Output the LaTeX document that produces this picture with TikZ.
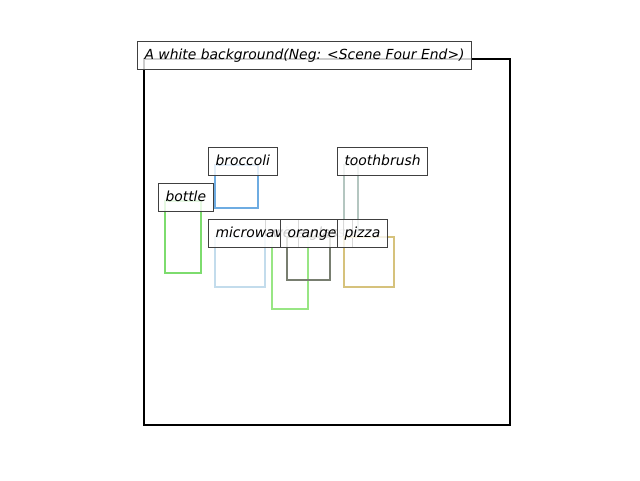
\documentclass[tikz,border=0pt]{standalone}
\usepackage{fontspec}
\setmainfont{DejaVu Sans}
\definecolor{lblgray}{RGB}{64,64,64}
\definecolor{cbroc}{RGB}{110,172,226}
\definecolor{cbott}{RGB}{125,220,110}
\definecolor{cmicro}{RGB}{195,220,236}
\definecolor{cwine}{RGB}{152,230,132}
\definecolor{corange}{RGB}{120,126,112}
\definecolor{cpizza}{RGB}{214,194,124}
\definecolor{ctooth}{RGB}{180,198,192}

\begin{document}
\begin{tikzpicture}[x=1pt,y=-1pt,
    lbl/.style={draw=lblgray, line width=1pt, fill=white, fill opacity=0.8, text opacity=1,
        anchor=base west, inner xsep=7pt, inner ysep=7pt, text height=10.5pt, text depth=3.3pt,
        font=\fontsize{13.9}{16}\selectfont\itshape},
    bx/.style={line width=2pt}]
    \useasboundingbox (0,0) rectangle (640,480);
    \draw[line width=2pt] (144,59) rectangle (510,425);
    \node[lbl] (title) at (137,59) {A white background(Neg: <Scene Four End>)};
    \foreach \x/\y/\xx/\yy/\c/\t/\n in {344/165/358/232/ctooth/toothbrush/tooth,
        165/201/201/273/cbott/bottle/bott,
        215/165/258/208/cbroc/broccoli/broc,
        272/237/308/309/cwine/wine glass/wine,
        215/237/265/287/cmicro/microwave/micro,
        287/237/330/280/corange/orange/orng,
        344/237/394/287/cpizza/pizza/pizz}{
        \draw[bx,\c] (\x,\y) rectangle (\xx,\yy);
        \node[lbl] (\n) at (\x-7,\y) {\t};
    }
\end{tikzpicture}
\end{document}
